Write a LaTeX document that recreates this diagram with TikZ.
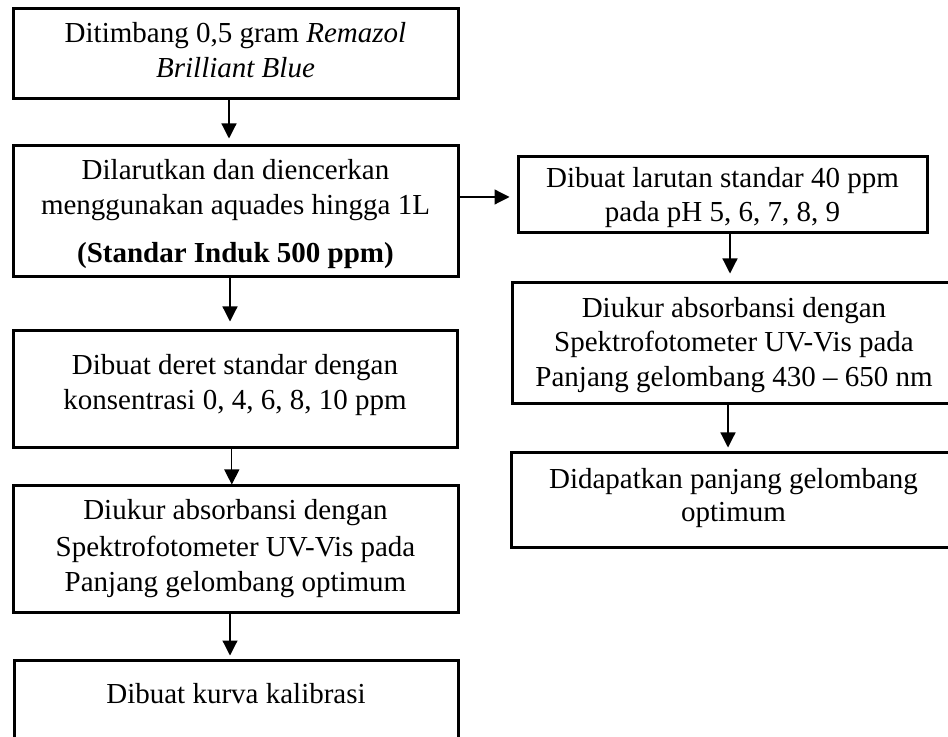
\documentclass[tikz,border=0pt]{standalone}
\usepackage{fontspec}
\setmainfont{Liberation Serif}
\usetikzlibrary{arrows.meta}
\begin{document}
\begin{tikzpicture}[x=0.5pt,y=-0.5pt,
  box/.style={draw, line width=1.5pt, inner sep=0pt},
  txt/.style={anchor=base, inner sep=0pt, font=\fontsize{14.5pt}{17.5pt}\selectfont},
  arr/.style={line width=0.6pt, -{Triangle[length=7.5pt,width=7.5pt]}}
]
\useasboundingbox (0,0) rectangle (948,737);
\clip (0,0) rectangle (948,737);
% left column boxes
\node[box, minimum width=222.5pt, minimum height=45pt]   (b1) at (235.5,54) {};
\node[box, minimum width=222.5pt, minimum height=65.5pt] (b2) at (235.5,211.5) {};
\node[box, minimum width=222pt,   minimum height=58.5pt] (b3) at (235,389.5) {};
\node[box, minimum width=222.5pt, minimum height=63pt]   (b4) at (235.5,549) {};
\node[box, minimum width=222pt,   minimum height=65pt]   (b5) at (236,725) {};
% right column boxes
\node[box, minimum width=204.5pt, minimum height=38pt]   (r1) at (722.5,195) {};
\node[box, minimum width=222pt,   minimum height=60.5pt] (r2) at (734,343.5) {};
\node[box, minimum width=222.5pt, minimum height=47pt]   (r3) at (733.5,500) {};
% texts
\node[txt] (t1a) at (235.5,43) {Ditimbang 0,5 gram \textit{Remazol}};
\node[txt] (t1b) at (235.5,78) {\textit{Brilliant Blue}};
\node[txt] (t2a) at (235.5,180) {Dilarutkan dan diencerkan};
\node[txt] (t2b) at (235.5,215) {menggunakan aquades hingga 1L};
\node[txt] (t2c) at (235.5,263) {\textbf{(Standar Induk 500 ppm)}};
\node[txt] (t3a) at (235,375) {Dibuat deret standar dengan};
\node[txt] (t3b) at (235,410) {konsentrasi 0, 4, 6, 8, 10 ppm};
\node[txt] (t4a) at (235.5,520) {Diukur absorbansi dengan};
\node[txt] (t4b) at (235.5,556) {Spektrofotometer UV-Vis pada};
\node[txt] (t4c) at (235.5,591) {Panjang gelombang optimum};
\node[txt] (t5a) at (236,703) {Dibuat kurva kalibrasi};
\node[txt] (tr1a) at (722.5,188) {Dibuat larutan standar 40 ppm};
\node[txt] (tr1b) at (722.5,222) {pada pH 5, 6, 7, 8, 9};
\node[txt] (tr2a) at (734,318) {Diukur absorbansi dengan};
\node[txt] (tr2b) at (734,352) {Spektrofotometer UV-Vis pada};
\node[txt] (tr2c) at (734,387) {Panjang gelombang 430 -- 650 nm};
\node[txt] (tr3a) at (733.5,488) {Didapatkan panjang gelombang};
\node[txt] (tr3b) at (733.5,522) {optimum};
% connectors
\coordinate (c1) at ([xshift=-3.25pt]b1.south);
\draw[arr, shorten >=3pt] (c1) -- (c1 |- b2.north);
\coordinate (c2) at ([xshift=-2.75pt]b2.south);
\draw[arr, shorten >=4pt] (c2) -- (c2 |- b3.north);
\coordinate (c3) at ([xshift=-1.6pt]b3.south);
\draw[arr] (c3) -- (c3 |- b4.north);
\coordinate (c4) at ([xshift=-2.75pt]b4.south);
\draw[arr, shorten >=1.5pt] (c4) -- (c4 |- b5.north);
\coordinate (c5) at ([yshift=7.25pt]b2.east);
\draw[arr, shorten >=3.5pt] (c5) -- (c5 -| r1.west);
\coordinate (c6) at ([xshift=3.75pt]r1.south);
\draw[arr, shorten >=4pt] (c6) -- (c6 |- r2.north);
\coordinate (c7) at ([xshift=-3pt]r2.south);
\draw[arr, shorten >=2pt] (c7) -- (c7 |- r3.north);
\end{tikzpicture}
\end{document}
